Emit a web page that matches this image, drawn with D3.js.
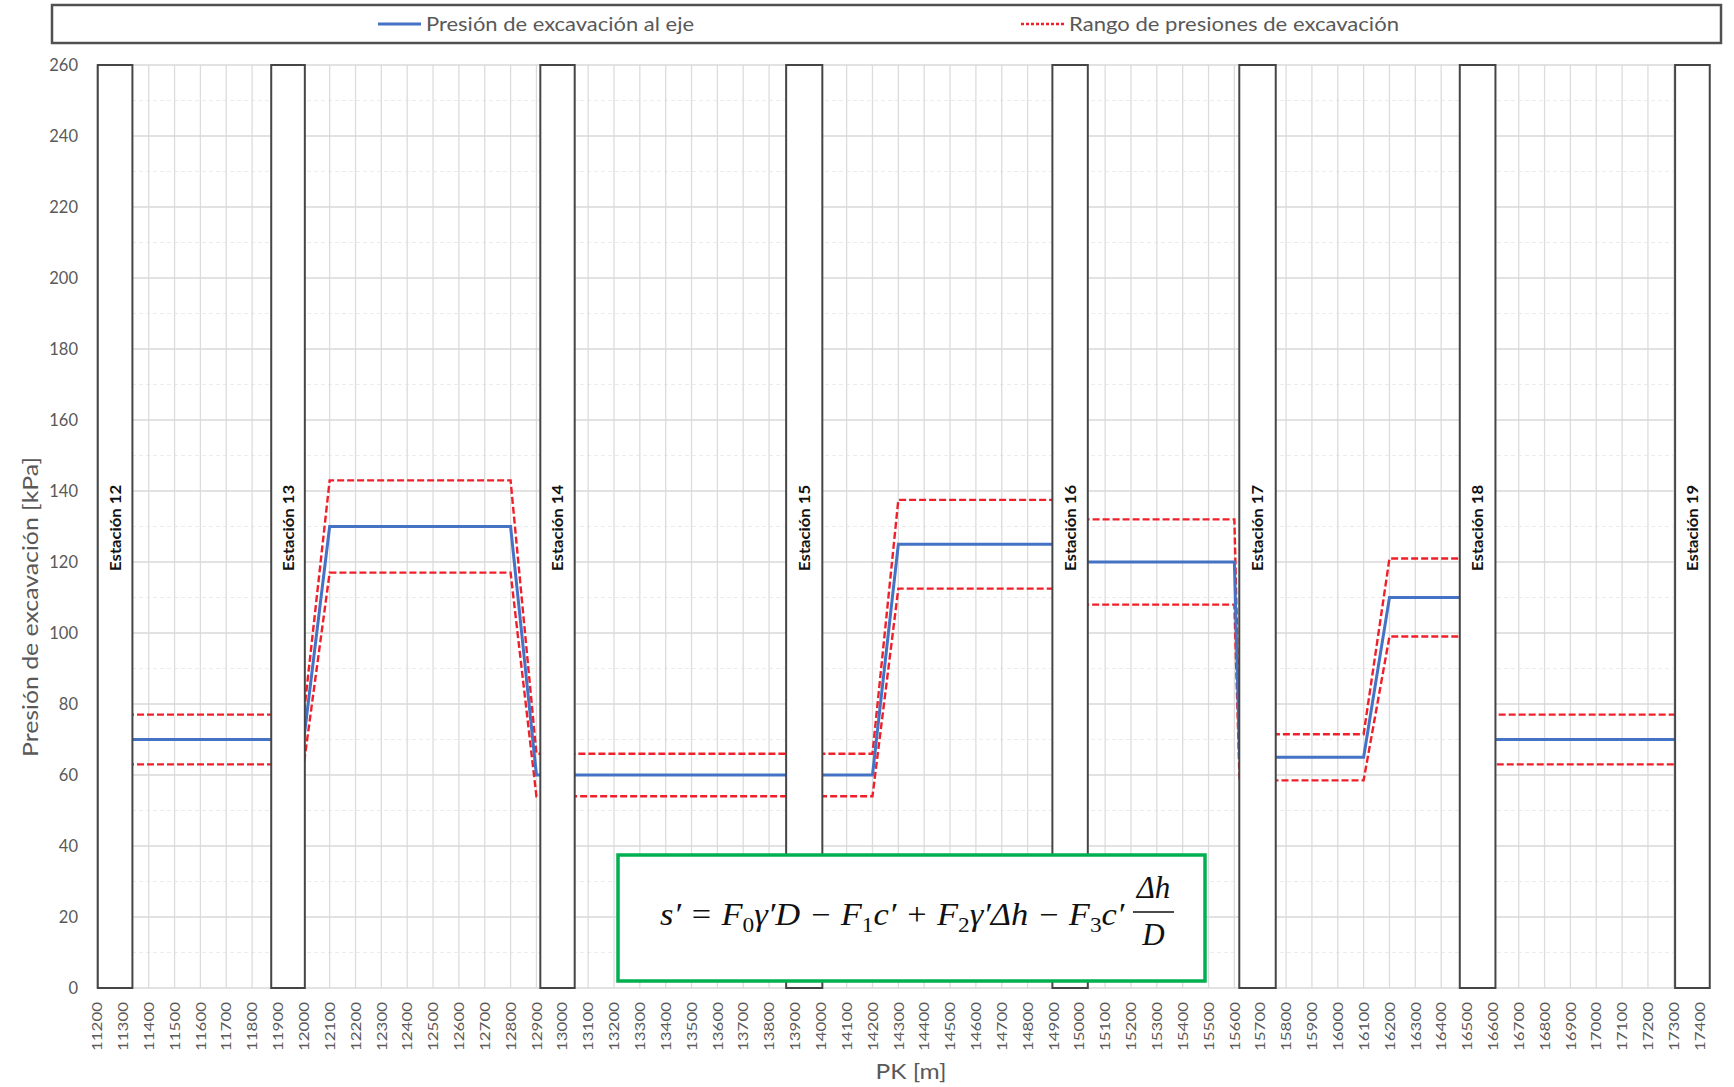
<!DOCTYPE html>
<html>
<head>
<meta charset="utf-8">
<script src="https://cdn.jsdelivr.net/npm/d3@7"></script>
<style>
  body { margin: 0; background: #fff; }
  svg { display: block; font-family: Lato, "Open Sans", sans-serif; }
</style>
</head>
<body>
<div id="chart"></div>
<script>
var pkTicks = [11200, 11300, 11400, 11500, 11600, 11700, 11800, 11900, 12000, 12100,
  12200, 12300, 12400, 12500, 12600, 12700, 12800, 12900, 13000, 13100,
  13200, 13300, 13400, 13500, 13600, 13700, 13800, 13900, 14000, 14100,
  14200, 14300, 14400, 14500, 14600, 14700, 14800, 14900, 15000, 15100,
  15200, 15300, 15400, 15500, 15600, 15700, 15800, 15900, 16000, 16100,
  16200, 16300, 16400, 16500, 16600, 16700, 16800, 16900, 17000, 17100,
  17200, 17300, 17400];
var pressureTicks = [0, 20, 40, 60, 80, 100, 120, 140, 160, 180, 200, 220, 240, 260];
var minorTicks = [10, 30, 50, 70, 90, 110, 130, 150, 170, 190, 210, 230, 250];

// estaciones: tramo de PK que ocupan
var stationNames = ["Estación 12", "Estación 13", "Estación 14", "Estación 15",
  "Estación 16", "Estación 17", "Estación 18", "Estación 19"];
var stationStart = [11203, 11874, 12915, 13866, 14896, 15619, 16472, 17305];
var stationEnd   = [11337, 12004, 13048, 14006, 15033, 15760, 16610, 17439];
var stationTop = 260;

// presión al eje y rango (kPa)
var pk          = [11200, 12000, 12100, 12800, 12900, 14200, 14300, 14900, 15000, 15600, 15620, 16100, 16200, 16500, 16600, 17400];
var pressure    = [70, 70, 130, 130, 60, 60, 125, 125, 120, 120, 65, 65, 110, 110, 70, 70];
var pressureMax = [77, 77, 143, 143, 66, 66, 137.5, 137.5, 132, 132, 71.5, 71.5, 121, 121, 77, 77];
var pressureMin = [63, 63, 117, 117, 54, 54, 112.5, 112.5, 108, 108, 58.5, 58.5, 99, 99, 63, 63];

var margin = {top: 65, right: 24, bottom: 99, left: 97};
var width = 1734 - margin.left - margin.right;
var height = 1087 - margin.top - margin.bottom;

var svg = d3.select("#chart")
  .append("svg")
    .attr("width", 1734)
    .attr("height", 1087);

var chart = svg.append("g")
    .attr("transform", "translate(" + margin.left + "," + margin.top + ")");

var x = d3.scaleLinear().domain([11200, 17440]).range([0, width]),
    y = d3.scaleLinear().domain([0, 260]).range([height, 0]);

// rejilla
chart.append("g")
  .selectAll("line")
  .data(minorTicks)
  .enter().append("line")
    .attr("x1", 0).attr("x2", width)
    .attr("y1", function(d) { return y(d); })
    .attr("y2", function(d) { return y(d); })
    .attr("stroke", "#ececec")
    .attr("stroke-width", 1.2)
    .attr("stroke-dasharray", "4,3");

chart.append("g")
  .selectAll("line")
  .data(pkTicks)
  .enter().append("line")
    .attr("x1", function(d) { return x(d); })
    .attr("x2", function(d) { return x(d); })
    .attr("y1", 0).attr("y2", height)
    .attr("stroke", "#dcdcdc")
    .attr("stroke-width", 1.3);

chart.append("g")
  .selectAll("line")
  .data(pressureTicks)
  .enter().append("line")
    .attr("x1", 0).attr("x2", width)
    .attr("y1", function(d) { return y(d); })
    .attr("y2", function(d) { return y(d); })
    .attr("stroke", "#d9d9d9")
    .attr("stroke-width", 1.5);

// ejes
var yAxis = chart.append("g")
  .call(d3.axisLeft(y).tickValues(pressureTicks).tickSize(0).tickPadding(19));
yAxis.select(".domain").remove();
yAxis.selectAll("text")
  .attr("fill", "#595959")
  .style("font-size", "16.5px")
  .style("font-family", "Lato, sans-serif");

var xAxis = chart.append("g")
  .attr("transform", "translate(0," + height + ")")
  .call(d3.axisBottom(x).tickValues(pkTicks).tickSize(0).tickFormat(d3.format("d")));
xAxis.select(".domain").remove();
xAxis.selectAll("text")
  .attr("fill", "#595959")
  .style("font-size", "13px")
  .style("font-family", "Lato, sans-serif")
  .attr("text-anchor", "end")
  .attr("transform", "rotate(-90)")
  .attr("x", -14)
  .attr("y", 0)
  .attr("dy", "0.36em")
  .attr("textLength", 49)
  .attr("lengthAdjust", "spacingAndGlyphs");

// líneas
var line = function(values) {
  return d3.line()
    .x(function(d, i) { return x(pk[i]); })
    .y(function(d) { return y(d); })(values);
};

chart.append("path")
  .attr("d", line(pressureMax))
  .attr("fill", "none")
  .attr("stroke", "#f0202a")
  .attr("stroke-width", 2.4)
  .attr("stroke-dasharray", "7,3");

chart.append("path")
  .attr("d", line(pressureMin))
  .attr("fill", "none")
  .attr("stroke", "#f0202a")
  .attr("stroke-width", 2.4)
  .attr("stroke-dasharray", "7,3");

chart.append("path")
  .attr("d", line(pressure))
  .attr("fill", "none")
  .attr("stroke", "#4472c4")
  .attr("stroke-width", 3);

// estaciones
chart.selectAll(".station")
  .data(stationNames)
  .enter().append("rect")
    .attr("class", "station")
    .attr("x", function(d, i) { return x(stationStart[i]); })
    .attr("y", y(stationTop))
    .attr("width", function(d, i) { return x(stationEnd[i]) - x(stationStart[i]); })
    .attr("height", height - y(stationTop))
    .attr("fill", "#fff")
    .attr("stroke", "#454545")
    .attr("stroke-width", 2);

chart.selectAll(".station-label")
  .data(stationNames)
  .enter().append("text")
    .attr("class", "station-label")
    .attr("transform", function(d, i) {
      return "translate(" + x((stationStart[i] + stationEnd[i]) / 2) + "," + (y(117.5)) + ") rotate(-90)";
    })
    .attr("dy", "0.36em")
    .attr("fill", "#111")
    .style("font-size", "16px")
    .style("font-weight", "bold")
    .attr("textLength", 86)
    .attr("lengthAdjust", "spacingAndGlyphs")
    .text(function(d) { return d; });

// títulos de ejes
svg.append("text")
  .attr("transform", "translate(30,607) rotate(-90)")
  .attr("text-anchor", "middle")
  .attr("dy", "0.36em")
  .attr("fill", "#595959")
  .style("font-size", "22px")
  .attr("textLength", 300)
  .attr("lengthAdjust", "spacingAndGlyphs")
  .text("Presión de excavación [kPa]");

svg.append("text")
  .attr("x", 911)
  .attr("y", 1071)
  .attr("text-anchor", "middle")
  .attr("dy", "0.36em")
  .attr("fill", "#595959")
  .style("font-size", "21px")
  .attr("textLength", 71)
  .attr("lengthAdjust", "spacingAndGlyphs")
  .text("PK [m]");

// leyenda
svg.append("rect")
  .attr("x", 52).attr("y", 5)
  .attr("width", 1669).attr("height", 38)
  .attr("fill", "#fff")
  .attr("stroke", "#505050")
  .attr("stroke-width", 2.5);

svg.append("line")
  .attr("x1", 378).attr("x2", 421)
  .attr("y1", 24).attr("y2", 24)
  .attr("stroke", "#4472c4")
  .attr("stroke-width", 3);

svg.append("text")
  .attr("x", 426).attr("y", 24)
  .attr("dy", "0.36em")
  .attr("fill", "#595959")
  .style("font-size", "20px")
  .attr("textLength", 268)
  .attr("lengthAdjust", "spacingAndGlyphs")
  .text("Presión de excavación al eje");

svg.append("line")
  .attr("x1", 1021).attr("x2", 1065)
  .attr("y1", 24).attr("y2", 24)
  .attr("stroke", "#f0202a")
  .attr("stroke-width", 2.4)
  .attr("stroke-dasharray", "3,2");

svg.append("text")
  .attr("x", 1069).attr("y", 24)
  .attr("dy", "0.36em")
  .attr("fill", "#595959")
  .style("font-size", "20px")
  .attr("textLength", 330)
  .attr("lengthAdjust", "spacingAndGlyphs")
  .text("Rango de presiones de excavación");

// fórmula
svg.append("rect")
  .attr("x", 618).attr("y", 855)
  .attr("width", 587).attr("height", 126)
  .attr("fill", "#fff")
  .attr("stroke", "#00b050")
  .attr("stroke-width", 3.5);

var formulaParts = [
  {t: "s′ = F"}, {t: "0", sub: true}, {t: "γ′D − F"}, {t: "1", sub: true},
  {t: "c′ + F"}, {t: "2", sub: true}, {t: "γ′Δh − F"}, {t: "3", sub: true}, {t: "c′"}
];

var formula = svg.append("text")
  .attr("x", 660).attr("y", 925)
  .attr("fill", "#111")
  .style("font-family", "'Liberation Serif', serif")
  .style("font-style", "italic")
  .style("font-size", "31px")
  .attr("xml:space", "preserve");

var shifted = false;
formulaParts.forEach(function(p) {
  var ts = formula.append("tspan").text(p.t);
  if (p.sub) {
    ts.attr("dy", 7).style("font-size", "21px").style("font-style", "normal");
    shifted = true;
  } else if (shifted) {
    ts.attr("dy", -7);
    shifted = false;
  }
});

// ajustar el ancho de la fórmula al del original
var fw = formula.node().getBBox().width;
formula.attr("transform", "translate(660,0) scale(" + (466 / fw) + ",1) translate(-660,0)");

svg.append("line")
  .attr("x1", 1133).attr("x2", 1174)
  .attr("y1", 912).attr("y2", 912)
  .attr("stroke", "#111")
  .attr("stroke-width", 1.6);

svg.append("text")
  .attr("x", 1153.5).attr("y", 898)
  .attr("text-anchor", "middle")
  .attr("fill", "#111")
  .style("font-family", "'Liberation Serif', serif")
  .style("font-style", "italic")
  .style("font-size", "31px")
  .text("Δh");

svg.append("text")
  .attr("x", 1153.5).attr("y", 945)
  .attr("text-anchor", "middle")
  .attr("fill", "#111")
  .style("font-family", "'Liberation Serif', serif")
  .style("font-style", "italic")
  .style("font-size", "31px")
  .text("D");
</script>
</body>
</html>
